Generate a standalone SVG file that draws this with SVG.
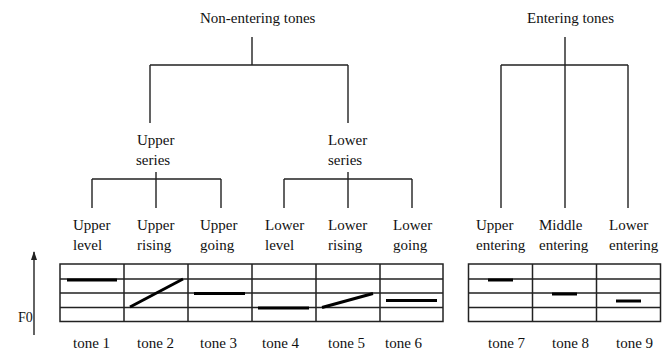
<svg xmlns="http://www.w3.org/2000/svg" width="670" height="354" viewBox="0 0 670 354">
<defs>
<style>
text{font-family:"Liberation Serif","Times New Roman",serif;font-size:15px;fill:#111}
.e{stroke:#222;stroke-width:1.4;fill:none}
.g{stroke:#222;stroke-width:1.5;fill:none}
.t{stroke:#000;stroke-width:3;fill:none}
</style>
<marker id="ah" viewBox="0 0 9 6" refX="8" refY="3" markerWidth="9" markerHeight="6" markerUnits="userSpaceOnUse" orient="auto">
<path d="M0,0 L9,3 L0,6 Z" fill="#222"/>
</marker>
</defs>
<rect width="670" height="354" fill="#fff"/>

<g id="connectors">
<path class="e" d="M252,37 V65 M150,65 H348 M150,65 V123 M348,65 V123"/>
<path class="e" d="M156,172 V179 M92,179 H221 M92,179 V208 M156,179 V208 M221,179 V208"/>
<path class="e" d="M348,172 V179 M284,179 H412 M284,179 V208 M348,179 V208 M412,179 V208"/>
<path class="e" d="M565,37 V208 M501,65 H628 M501,65 V208 M628,65 V208"/>
<line class="e" x1="34" y1="335" x2="34" y2="252" marker-end="url(#ah)"/>
</g>

<g id="non-entering"><text x="200" y="23">Non-entering tones</text></g>
<g id="entering"><text x="527" y="23">Entering tones</text></g>
<g id="upper-series"><text x="137" y="145">Upper</text><text x="136" y="165">series</text></g>
<g id="lower-series"><text x="328" y="145">Lower</text><text x="328" y="165">series</text></g>

<g id="upper-level"><text x="73" y="230">Upper</text><text x="73" y="250">level</text></g>
<g id="upper-rising"><text x="137" y="230">Upper</text><text x="137" y="250">rising</text></g>
<g id="upper-going"><text x="200" y="230">Upper</text><text x="200" y="250">going</text></g>
<g id="lower-level"><text x="265" y="230">Lower</text><text x="265" y="250">level</text></g>
<g id="lower-rising"><text x="328" y="230">Lower</text><text x="328" y="250">rising</text></g>
<g id="lower-going"><text x="393" y="230">Lower</text><text x="393" y="250">going</text></g>
<g id="upper-entering"><text x="476" y="230">Upper</text><text x="476" y="250">entering</text></g>
<g id="middle-entering"><text x="539" y="230">Middle</text><text x="539" y="250">entering</text></g>
<g id="lower-entering"><text x="609" y="230">Lower</text><text x="609" y="250">entering</text></g>

<g id="grid-left">
<rect class="g" x="60" y="264" width="383" height="57.5"/>
<path class="g" d="M60,279 H443 M60,293 H443 M60,307.5 H443 M124,264 V321.5 M188,264 V321.5 M252,264 V321.5 M316,264 V321.5 M380,264 V321.5"/>
</g>
<g id="grid-right">
<rect class="g" x="468.5" y="264" width="192" height="57.5"/>
<path class="g" d="M468.5,279 H660.5 M468.5,293 H660.5 M468.5,307.5 H660.5 M532.5,264 V321.5 M596.5,264 V321.5"/>
</g>

<g id="tone1"><line class="t" x1="67" y1="280" x2="117" y2="280"/><text x="73" y="348">tone 1</text></g>
<g id="tone2"><line class="t" x1="130" y1="307" x2="183" y2="279"/><text x="137" y="348">tone 2</text></g>
<g id="tone3"><line class="t" x1="194" y1="293.5" x2="245" y2="293.5"/><text x="200" y="348">tone 3</text></g>
<g id="tone4"><line class="t" x1="258" y1="308" x2="309" y2="308"/><text x="262" y="348">tone 4</text></g>
<g id="tone5"><line class="t" x1="322" y1="307.5" x2="373" y2="293.5"/><text x="328" y="348">tone 5</text></g>
<g id="tone6"><line class="t" x1="386" y1="300.5" x2="437" y2="300.5"/><text x="385" y="348">tone 6</text></g>
<g id="tone7"><line class="t" x1="488" y1="280" x2="513" y2="280"/><text x="488" y="348">tone 7</text></g>
<g id="tone8"><line class="t" x1="552" y1="294" x2="577" y2="294"/><text x="552" y="348">tone 8</text></g>
<g id="tone9"><line class="t" x1="616" y1="301" x2="641" y2="301"/><text x="616" y="348">tone 9</text></g>

<g id="f0-axis"><text x="18" y="322" style="font-size:14px">F0</text></g>
</svg>
